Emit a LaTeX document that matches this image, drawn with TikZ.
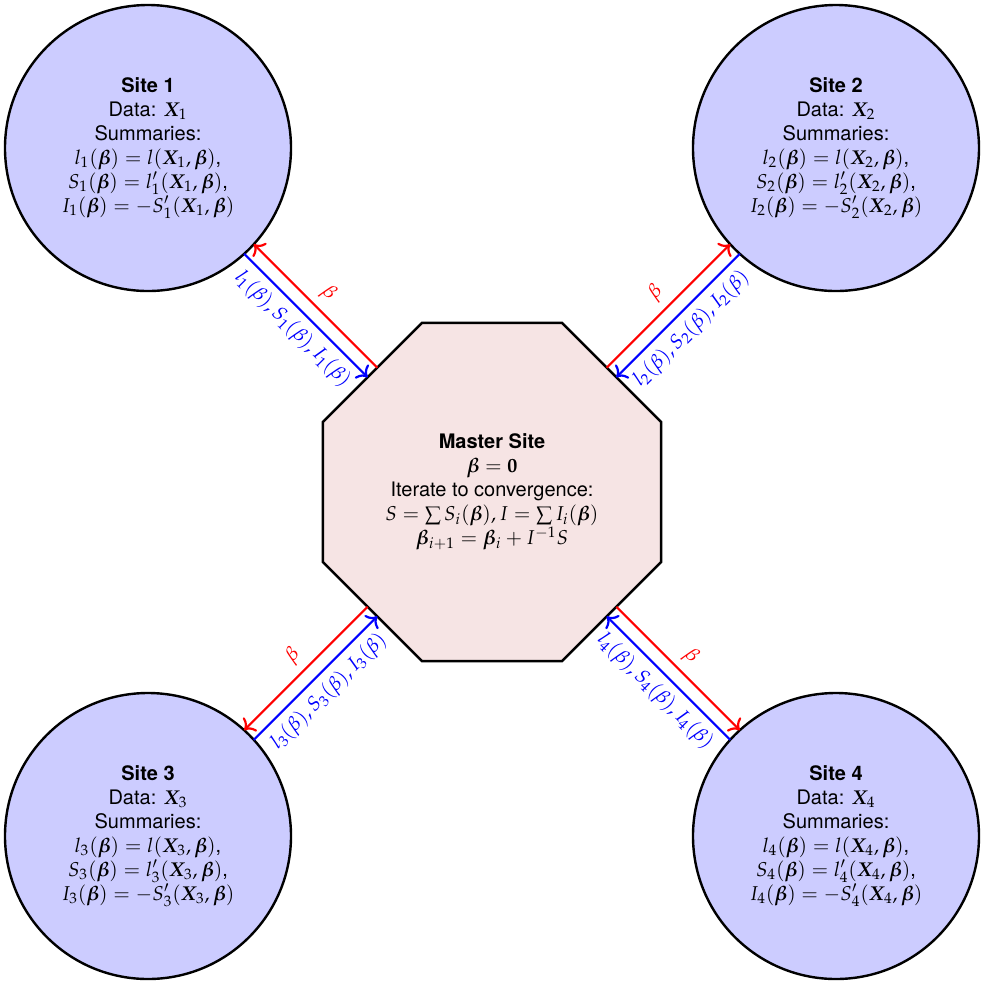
\documentclass[tikz,border=0pt]{standalone}
\usepackage{mathpazo}
\usepackage{amsmath}
\usepackage{bm}
\usepackage[no-math]{fontspec}
\setmainfont{TeX Gyre Heros}
\usetikzlibrary{shapes.geometric,calc,arrows.meta}
\definecolor{sitefill}{RGB}{204,204,255}
\definecolor{masterfill}{RGB}{246,228,228}
\tikzset{
  site/.style={circle,draw,line width=1.2pt,fill=sitefill,minimum size=143pt,inner sep=0pt,align=center,font=\normalsize},
  master/.style={regular polygon,regular polygon sides=8,draw,line width=1.2pt,fill=masterfill,minimum size=183pt,inner sep=0pt,align=center},
  redarr/.style={red,line width=1.1pt,-{To[scale=1.15]}},
  bluearr/.style={blue,line width=1.1pt,-{To[scale=1.15]}},
  lab/.style={midway,sloped,inner sep=3.6pt}
}
\newcommand{\sitetext}[1]{\textbf{Site #1}\\ Data: $\bm{X}_{#1}$\\ Summaries:\\
$l_{#1}(\bm\beta)=l(\bm{X}_{#1},\bm\beta)$,\\
$S_{#1}(\bm\beta)=l_{#1}'(\bm{X}_{#1},\bm\beta)$,\\
$I_{#1}(\bm\beta)=-S_{#1}'(\bm{X}_{#1},\bm\beta)$}
\begin{document}
\begin{tikzpicture}[x=0.5pt,y=-0.5pt]
\useasboundingbox (0,0) rectangle (986,987);
\node[master] (m) at (492,492) {\textbf{Master Site}\\ $\bm{\beta}=\mathbf{0}$\\ Iterate to convergence:\\ $S=\sum S_i(\bm\beta), I=\sum I_i(\bm\beta)$\\ $\bm\beta_{i+1}=\bm\beta_i+I^{-1}S$};
\node[site] (s1) at (148,148) {\sitetext{1}};
\node[site] (s2) at (836,148) {\sitetext{2}};
\node[site] (s3) at (148,836) {\sitetext{3}};
\node[site] (s4) at (836,836) {\sitetext{4}};
\foreach \i/\a/\b in {1/-90/90,2/90/-90,3/-90/90,4/90/-90}{
  \draw[redarr] ($(m)!84.5pt!(s\i)!3.4pt!\a:(s\i)$) -- node[lab,above]{$\beta$} ($(s\i)!71.4pt!(m)!3.4pt!\b:(m)$);
  \draw[bluearr] ($(s\i)!71.4pt!(m)!3.4pt!\a:(m)$) -- node[lab,below]{$l_{\i}(\beta), S_{\i}(\beta), I_{\i}(\beta)$} ($(m)!84.5pt!(s\i)!3.4pt!\b:(s\i)$);
}
\end{tikzpicture}
\end{document}
